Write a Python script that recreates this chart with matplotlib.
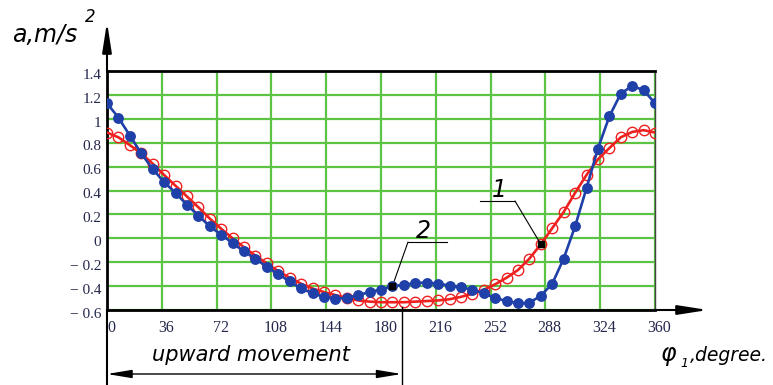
import numpy as np
import matplotlib.pyplot as plt
from matplotlib.lines import Line2D
from matplotlib.patches import FancyArrowPatch
from matplotlib.transforms import ScaledTranslation, blended_transform_factory

# crank angle, degrees (marker every 7.5 deg)
phi = np.arange(0, 360.1, 7.5)

# curve 1 (red, open markers)
a_1 = [0.885, 0.845, 0.78, 0.71, 0.625, 0.53, 0.44, 0.35, 0.26,
       0.165, 0.08, 0.0, -0.075, -0.145, -0.21, -0.275, -0.33,
       -0.38, -0.42, -0.45, -0.475, -0.50, -0.52, -0.53, -0.535,
       -0.535, -0.535, -0.53, -0.525, -0.52, -0.51, -0.49, -0.465,
       -0.43, -0.385, -0.33, -0.265, -0.17, -0.05, 0.085, 0.22,
       0.38, 0.53, 0.66, 0.755, 0.845, 0.89, 0.905, 0.885]

# curve 2 (blue, filled markers)
a_2 = [1.13, 1.01, 0.86, 0.71, 0.58, 0.47, 0.38, 0.28, 0.19,
       0.10, 0.03, -0.04, -0.11, -0.17, -0.24, -0.30, -0.36,
       -0.42, -0.46, -0.49, -0.505, -0.50, -0.475, -0.45, -0.43,
       -0.40, -0.39, -0.375, -0.37, -0.38, -0.395, -0.41, -0.43,
       -0.46, -0.50, -0.525, -0.545, -0.54, -0.48, -0.38, -0.17,
       0.10, 0.42, 0.75, 1.02, 1.21, 1.275, 1.24, 1.13]

x_ticks = [0, 36, 72, 108, 144, 180, 216, 252, 288, 324, 360]
y_ticks = [-0.6, -0.4, -0.2, 0, 0.2, 0.4, 0.6, 0.8, 1, 1.2, 1.4]
y_labels = ['\u2212 0.6', '\u2212 0.4', '\u2212 0.2', '0', '0.2', '0.4',
            '0.6', '0.8', '1', '1.2', '1.4']

label_1_phi = 285.0      # where leader "1" touches curve 1
label_2_phi = 187.5      # where leader "2" touches curve 2
upward_end = 193.5       # end of the "upward movement" span

W, H = 773, 385
fig = plt.figure(figsize=(W / 100, H / 100), dpi=100)


def px(x, y):
    # pixel position (from top-left) -> figure fraction
    return x / W, 1 - y / H


ax = fig.add_axes([107 / W, 75 / H, 548 / W, 239 / H])
ax.set_xlim(0, 360)
ax.set_ylim(-0.6, 1.4)

ax.plot(phi, a_1, color='#ee2020', lw=1.9, marker='o', ms=7.5,
        mfc='none', mec='#ee2020', mew=1.0, zorder=3)
ax.plot(phi, a_2, color='#1f40a8', lw=1.9, marker='o', ms=6.8,
        mfc='#1f40a8', mec='#1f40a8', zorder=4)

ax.set_xticks(x_ticks)
ax.set_yticks(y_ticks)
ax.set_xticklabels([str(t) for t in x_ticks])
ax.set_yticklabels(y_labels)
ax.tick_params(length=0, labelcolor='#24284c', pad=4)
ax.tick_params(axis='x', labelsize=11.5)
ax.tick_params(axis='y', labelsize=11)
for lab in ax.get_xticklabels() + ax.get_yticklabels():
    lab.set_fontfamily('Liberation Serif')
for lab in ax.get_xticklabels():
    lab.set_transform(lab.get_transform() +
                      ScaledTranslation(3 / 72, -3 / 72, fig.dpi_scale_trans))
for lab in ax.get_yticklabels():
    lab.set_transform(lab.get_transform() +
                      ScaledTranslation(0, -2 / 72, fig.dpi_scale_trans))
ax.grid(True, color='#5cc445', lw=1.6)
ax.set_axisbelow(True)

for side in ['left', 'bottom', 'top']:
    ax.spines[side].set_linewidth(2)
    ax.spines[side].set_color('black')
ax.spines['right'].set_linewidth(1)
ax.spines['right'].set_color('#444444')

# axis arrows
arrow_kw = dict(arrowstyle='-|>,head_length=1.8,head_width=0.28',
                color='black', lw=1.5, mutation_scale=10,
                shrinkA=0, shrinkB=0)
fig.add_artist(FancyArrowPatch(px(107, 71), px(107, 22),
                               transform=fig.transFigure, **arrow_kw))
fig.add_artist(FancyArrowPatch(px(655, 310), px(708, 310),
                               transform=fig.transFigure, **arrow_kw))

# axis titles
fig.text(*px(12, 42), 'a,m/s', style='italic', size=17)
fig.text(*px(85, 22), '2', style='italic', size=12)
fig.text(*px(661, 361), '\u03c6', style='italic', size=17)
fig.text(*px(680, 367), '1', style='italic', size=9)
fig.text(*px(690, 361), ',degree.', style='italic', size=13.5)

# span of the upward movement
span = blended_transform_factory(ax.transData, fig.transFigure)
fig.add_artist(Line2D([0, 0], [1 - 310 / H, 0], transform=span,
                      color='black', lw=1.5))
fig.add_artist(Line2D([upward_end, upward_end], [1 - 307 / H, 0],
                      transform=span, color='black', lw=1))
fig.add_artist(FancyArrowPatch(
    (0, 1 - 374 / H), (upward_end, 1 - 374 / H), transform=span,
    arrowstyle='<|-|>,head_length=1.5,head_width=0.25', color='black',
    lw=1, mutation_scale=10, shrinkA=0, shrinkB=0))
fig.text(*px(152, 361), 'upward movement', style='italic', size=15)

# leaders for curve numbers
y1 = np.interp(label_1_phi, phi, a_1)
y2 = np.interp(label_2_phi, phi, a_2)
ax.plot([label_1_phi], [y1], 's', color='black', ms=4, zorder=5)
ax.plot([label_2_phi], [y2], 's', color='black', ms=4, zorder=5)

fig.add_artist(Line2D([480 / W, 515 / W], [1 - 201 / H] * 2, color='black', lw=0.8))
ax.annotate('', xy=(label_1_phi, y1), xytext=px(515, 201),
            textcoords='figure fraction',
            arrowprops=dict(arrowstyle='-', color='black', lw=0.8,
                            shrinkA=0, shrinkB=0))
fig.text(*px(492, 197), '1', style='italic', size=17)

fig.add_artist(Line2D([408 / W, 447 / W], [1 - 242 / H] * 2, color='black', lw=0.8))
ax.annotate('', xy=(label_2_phi, y2), xytext=px(408, 242),
            textcoords='figure fraction',
            arrowprops=dict(arrowstyle='-', color='black', lw=0.8,
                            shrinkA=0, shrinkB=0))
fig.text(*px(416, 238), '2', style='italic', size=17)

fig.savefig('out.png', dpi=100)
